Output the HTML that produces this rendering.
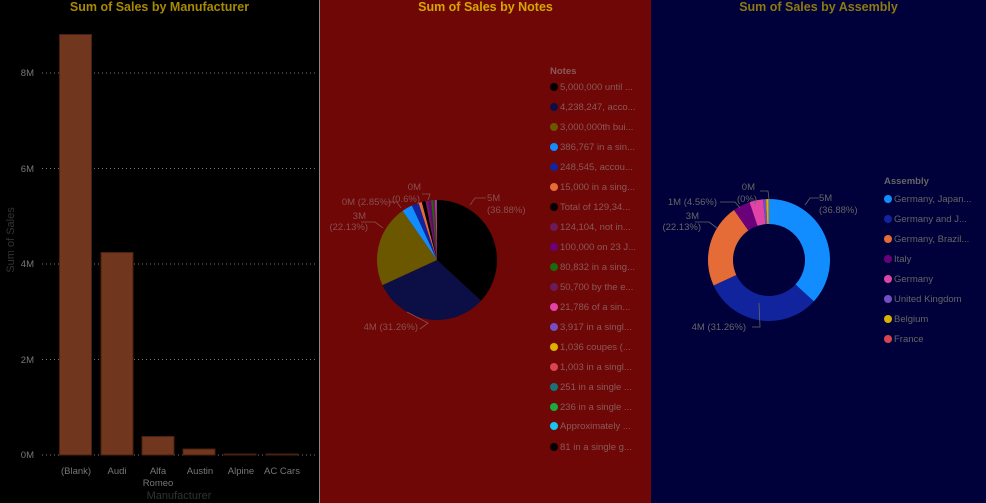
<!DOCTYPE html>
<html><head><meta charset="utf-8"><style>
body{margin:0;width:986px;height:503px;overflow:hidden;background:#000;font-family:"Liberation Sans",sans-serif;}
.p{position:absolute;top:0;height:503px}
.t{position:absolute;top:0;width:100%;text-align:center;font-size:12.5px;font-weight:bold;}
.lg{position:absolute;font-size:9.5px;white-space:nowrap}
.lg div{position:absolute;left:0;height:12px;line-height:12px}
.lg i{display:inline-block;width:8px;height:8px;border-radius:50%;margin-right:2px;vertical-align:-1px}
svg text{font-family:"Liberation Sans",sans-serif}
</style></head><body>
<div class="p" style="left:0;width:319px;background:#000">
<div class="t" style="color:#a88a00">Sum of Sales by Manufacturer</div>
<svg width="319" height="503" style="position:absolute;left:0;top:0">
<g stroke="#777" stroke-dasharray="1,3" stroke-width="1">
<line x1="42" x2="315" y1="73" y2="73"/><line x1="42" x2="315" y1="168.5" y2="168.5"/><line x1="42" x2="315" y1="264" y2="264"/><line x1="42" x2="315" y1="359.5" y2="359.5"/><line x1="42" x2="315" y1="455" y2="455"/></g>
<g fill="#71361e" stroke="#4a2010" stroke-width="1">
<rect x="59.5" y="34.5" width="32" height="420.5"/><rect x="101" y="252.5" width="32" height="202.5"/><rect x="142" y="436.5" width="32" height="18.5"/><rect x="183" y="449" width="32" height="6"/><rect x="224" y="454" width="32" height="1"/><rect x="266" y="454" width="32" height="1"/></g>
<g fill="#777" font-size="9.5" text-anchor="end">
<text x="34" y="76">8M</text><text x="34" y="172">6M</text><text x="34" y="267">4M</text><text x="34" y="363">2M</text><text x="34" y="458">0M</text></g>
<g fill="#777" font-size="9.5" text-anchor="middle">
<text x="76" y="474">(Blank)</text><text x="117" y="474">Audi</text><text x="158" y="474">Alfa</text><text x="158" y="486">Romeo</text><text x="200" y="474">Austin</text><text x="241" y="474">Alpine</text><text x="282" y="474">AC Cars</text></g>
<text x="179" y="499" fill="#333" font-size="11" text-anchor="middle">Manufacturer</text>
<text transform="translate(14,240) rotate(-90)" fill="#333" font-size="11" text-anchor="middle">Sum of Sales</text>
</svg></div>
<div class="p" style="left:319px;width:1px;background:#888"></div>
<div class="p" style="left:320px;width:331px;background:#6f0707">
<div class="t" style="color:#d4a800">Sum of Sales by Notes</div>
<svg id="pie" width="331" height="503" style="position:absolute;left:0;top:0"></svg>
<div class="lg" style="left:230px;top:66px;color:#8a5a5a"><div style="top:0;font-weight:bold">Notes</div><span id="nl"></span></div>
</div>
<div class="p" style="left:651px;width:335px;background:#00003a">
<div class="t" style="color:#8c7a10">Sum of Sales by Assembly</div>
<svg id="don" width="335" height="503" style="position:absolute;left:0;top:0"></svg>
<div class="lg" style="left:233px;top:176px;color:#666"><div style="top:0;font-weight:bold">Assembly</div><span id="al"></span></div>
</div>
<script>
function arcs(svg,cx,cy,r,ri,data){var a=-Math.PI/2,s='';data.forEach(function(d){var b=a+d[0]/100*2*Math.PI;var l=(b-a)>Math.PI?1:0;
var x1=cx+r*Math.cos(a),y1=cy+r*Math.sin(a),x2=cx+r*Math.cos(b),y2=cy+r*Math.sin(b);
var p;if(ri){var x3=cx+ri*Math.cos(b),y3=cy+ri*Math.sin(b),x4=cx+ri*Math.cos(a),y4=cy+ri*Math.sin(a);
p='M'+x1+','+y1+'A'+r+','+r+' 0 '+l+' 1 '+x2+','+y2+'L'+x3+','+y3+'A'+ri+','+ri+' 0 '+l+' 0 '+x4+','+y4+'Z';}
else p='M'+cx+','+cy+'L'+x1+','+y1+'A'+r+','+r+' 0 '+l+' 1 '+x2+','+y2+'Z';
s+='<path d="'+p+'" fill="'+d[1]+'"/>';a=b;});return s;}
var notes=[[36.88,'#000'],[31.26,'#0b0f45'],[22.13,'#6b5700'],[2.85,'#118dff'],[1.9,'#12239e'],[0.9,'#e66c37'],[1.0,'#000'],[0.8,'#6b1b5a'],[0.7,'#6b007b'],[0.6,'#1a6a10'],[0.5,'#6b1b5a'],[0.25,'#e044a7'],[0.1,'#744ec2'],[0.05,'#d9b300'],[0.03,'#d64550'],[0.02,'#197278'],[0.02,'#1aab40'],[0.01,'#15c6f4'],[0.01,'#000']];
var L=function(x,y,t,a){return '<text x="'+x+'" y="'+y+'" text-anchor="'+(a||'start')+'">'+t+'</text>';};
var ln='<g stroke="#8a5050" fill="none" stroke-width="0.8"><path d="M470,205 L475,198 L486,198"/><path d="M383,228 L375,222 L361,222"/><path d="M401,208 L397,202 L388,202"/><path d="M407,312 L428,323 L420,329"/><path d="M428,200 L430,194 L422,194"/></g>';
document.getElementById('pie').innerHTML='<g transform="translate(-320,0)">'+arcs(0,437,260,60,0,notes)+ln+'<g fill="#8a5050" font-size="9.5">'+L(487,201,'5M')+L(487,213,'(36.88%)')+L(366,219,'3M','end')+L(368,230,'(22.13%)','end')+L(391,205,'0M (2.85%)','end')+L(421,190,'0M','end')+L(420,202,'(0.6%)','end')+L(418,330,'4M (31.26%)','end')+'</g></g>';
var names=['5,000,000 until ...','4,238,247, acco...','3,000,000th bui...','386,767 in a sin...','248,545, accou...','15,000 in a sing...','Total of 129,34...','124,104, not in...','100,000 on 23 J...','80,832 in a sing...','50,700 by the e...','21,786 of a sin...','3,917 in a singl...','1,036 coupes (...','1,003 in a singl...','251 in a single ...','236 in a single ...','Approximately ...','81 in a single g...'];
var nc=['#000','#0b0f45','#6b5700','#118dff','#12239e','#e66c37','#000','#6b1b5a','#6b007b','#1a6a10','#6b1b5a','#e044a7','#744ec2','#d9b300','#d64550','#197278','#1aab40','#15c6f4','#000'];
var h='';names.forEach(function(n,i){var y=16+i*20;if(i==18)y=376;if(i==17)y=355;h+='<div style="top:'+y+'px"><i style="background:'+nc[i]+'"></i>'+n+'</div>';});
document.getElementById('nl').innerHTML=h;
var asm=[[36.88,'#118dff'],[31.26,'#12239e'],[22.13,'#e66c37'],[4.56,'#6b007b'],[3.6,'#e044a7'],[0.8,'#744ec2'],[0.7,'#d9b300'],[0.07,'#d64550']];
var ln2='<g stroke="#666" fill="none" stroke-width="0.8"><path d="M805,205 L810,198 L819,198"/><path d="M717,228 L709,222 L695,222"/><path d="M740,208 L735,202 L720,202"/><path d="M759,303 L760,327 L752,327"/><path d="M769,199 L768,191 L760,191"/></g>';
document.getElementById('don').innerHTML=arcs(0,118,260,61,36,asm)+'<g transform="translate(-651,0)">'+ln2+'</g><g fill="#666" font-size="9.5">'+L(168,201,'5M')+L(168,213,'(36.88%)')+L(48,219,'3M','end')+L(50,230,'(22.13%)','end')+L(66,205,'1M (4.56%)','end')+L(104,190,'0M','end')+L(106,202,'(0%)','end')+L(95,330,'4M (31.26%)','end')+'</g>';
var an=['Germany, Japan...','Germany and J...','Germany, Brazil...','Italy','Germany','United Kingdom','Belgium','France'],ac=['#118dff','#12239e','#e66c37','#6b007b','#e044a7','#744ec2','#d9b300','#d64550'];
h='';an.forEach(function(n,i){h+='<div style="top:'+(18+i*20)+'px"><i style="background:'+ac[i]+'"></i>'+n+'</div>';});
document.getElementById('al').innerHTML=h;
</script>
</body></html>
